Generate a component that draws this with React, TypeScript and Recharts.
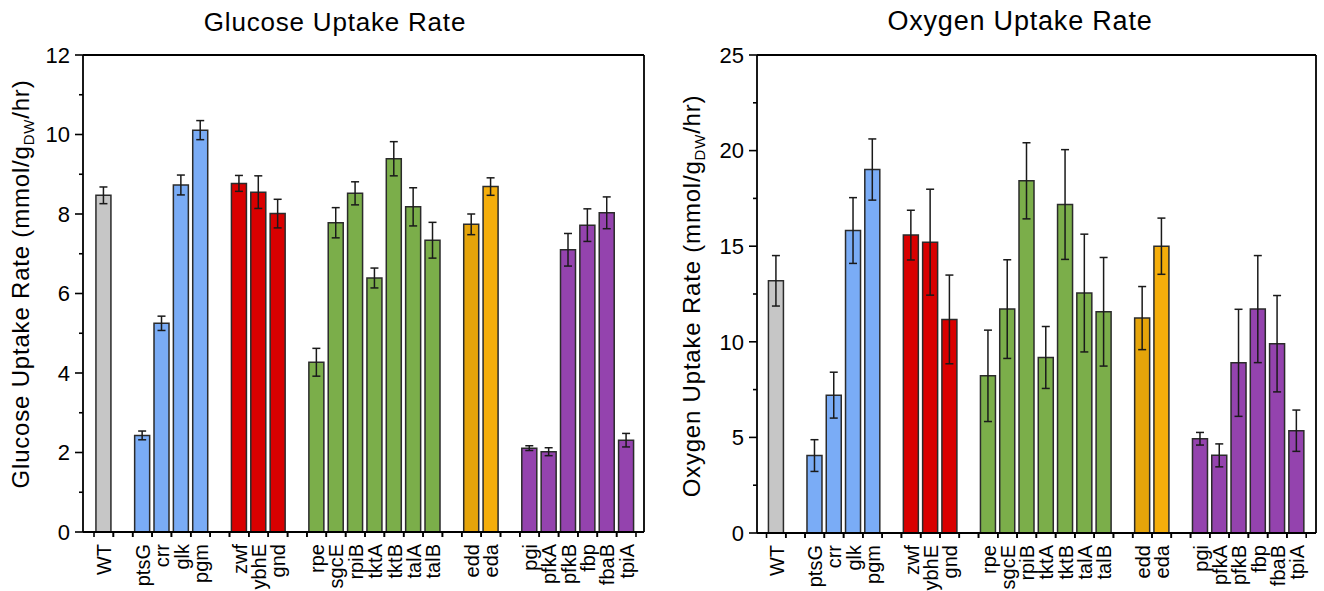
import React from 'react'
import { BarChart, Bar, XAxis, YAxis, ErrorBar, Cell } from 'recharts'

const FONT = '"Liberation Sans", Arial, sans-serif'

// '' entries are the empty slots between gene groups
const categories = [
  'WT', '',
  'ptsG', 'crr', 'glk', 'pgm', '',
  'zwf', 'ybhE', 'gnd', '',
  'rpe', 'sgcE', 'rpiB', 'tktA', 'tktB', 'talA', 'talB', '',
  'edd', 'eda', '',
  'pgi', 'pfkA', 'pfkB', 'fbp', 'fbaB', 'tpiA',
]

const GRAY = '#c6c6c6'
const BLUE = '#7aacf6'
const RED = '#d90000'
const GREEN = '#7bae4a'
const ORANGE_D = '#e5a40a'
const ORANGE = '#f5ae0b'
const PURPLE = '#9443ae'

const barColors = [
  GRAY, '',
  BLUE, BLUE, BLUE, BLUE, '',
  RED, RED, RED, '',
  GREEN, GREEN, GREEN, GREEN, GREEN, GREEN, GREEN, '',
  ORANGE_D, ORANGE, '',
  PURPLE, PURPLE, PURPLE, PURPLE, PURPLE, PURPLE,
]

const glucose = [
  8.47, null,
  2.43, 5.25, 8.73, 10.11, null,
  8.77, 8.55, 8.01, null,
  4.27, 7.78, 8.52, 6.39, 9.39, 8.18, 7.34, null,
  7.74, 8.69, null,
  2.11, 2.02, 7.1, 7.72, 8.03, 2.31,
]
const glucoseErr = [
  0.21, null,
  0.11, 0.18, 0.25, 0.24, null,
  0.2, 0.41, 0.36, null,
  0.35, 0.38, 0.29, 0.25, 0.43, 0.48, 0.45, null,
  0.26, 0.22, null,
  0.06, 0.1, 0.41, 0.41, 0.4, 0.17,
]

const oxygen = [
  13.19, null,
  4.05, 7.21, 15.82, 19.01, null,
  15.58, 15.21, 11.17, null,
  8.22, 11.71, 18.42, 9.18, 17.18, 12.55, 11.57, null,
  11.24, 15.0, null,
  4.93, 4.06, 8.9, 11.71, 9.9, 5.35,
]
const oxygenErr = [
  1.32, null,
  0.83, 1.2, 1.72, 1.6, null,
  1.3, 2.77, 2.32, null,
  2.39, 2.58, 1.99, 1.62, 2.87, 3.08, 2.84, null,
  1.65, 1.47, null,
  0.33, 0.6, 2.8, 2.8, 2.52, 1.08,
]

const glucoseMajor = [0, 2, 4, 6, 8, 10, 12]
const glucoseAll = [0, 1, 2, 3, 4, 5, 6, 7, 8, 9, 10, 11, 12]
const oxygenMajor = [0, 5, 10, 15, 20, 25]
const oxygenAll = [0, 2.5, 5, 7.5, 10, 12.5, 15, 17.5, 20, 22.5, 25]

function makeXTick(slot: number) {
  return (props: any) => {
    const { x, y, payload } = props
    const h = slot / 2
    const lx = x + 7.5
    const ly = y + 12
    return (
      <g>
        <line x1={x - h} x2={x - h} y1={y} y2={y + 5} stroke="#000" strokeWidth={1.6} />
        <line x1={x + h} x2={x + h} y1={y} y2={y + 5} stroke="#000" strokeWidth={1.6} />
        {payload.value ? (
          <text x={lx} y={ly} transform={`rotate(-90, ${lx}, ${ly})`} textAnchor="end"
            fontSize={20} fontFamily={FONT} fill="#000">{payload.value}</text>
        ) : null}
      </g>
    )
  }
}

function makeYTick(majors: number[]) {
  return (props: any) => {
    const { x, y, payload } = props
    const major = majors.includes(payload.value)
    return (
      <g>
        <line x1={x - (major ? 8 : 4)} x2={x} y1={y} y2={y} stroke="#000" strokeWidth={1.6} />
        {major ? (
          <text x={x - 13} y={y} dy="0.35em" textAnchor="end" fontSize={22} fontFamily={FONT} fill="#000">
            {payload.value}
          </text>
        ) : null}
      </g>
    )
  }
}

function YLabel({ name, bx, cy }: { name: string; bx: number; cy: number }) {
  return (
    <text x={bx} y={cy} transform={`rotate(-90, ${bx}, ${cy})`} textAnchor="middle"
      fontSize={24} fontFamily={FONT} fill="#000" letterSpacing={0.8}>
      <tspan>{name} Uptake Rate (mmol/g</tspan>
      <tspan dy={5} fontSize={15}>DW</tspan>
      <tspan dy={-5}>/hr)</tspan>
    </text>
  )
}

type PanelProps = {
  name: string
  values: (number | null)[]
  errs: (number | null)[]
  majors: number[]
  all: number[]
  width: number
  margin: { top: number; right: number; bottom: number; left: number }
  pad: { left: number; right: number }
  labelX: number
  labelY: number
}

function Panel({ name, values, errs, majors, all, width, margin, pad, labelX, labelY }: PanelProps) {
  const rows = categories.map((c, i) => ({ name: c, value: values[i], err: errs[i] }))
  const plotW = width - margin.left - margin.right - 61
  const slot = (plotW - pad.left - pad.right) / categories.length
  const top = majors[majors.length - 1]
  const axis = { stroke: '#000', strokeWidth: 1.8 }
  return (
    <BarChart width={width} height={591} data={rows} margin={margin} barCategoryGap="10%">
      <XAxis xAxisId="b" dataKey="name" interval={0} height={55} padding={pad}
        tickSize={0} tickMargin={0} tickLine={false} axisLine={axis} tick={makeXTick(slot)} />
      <XAxis xAxisId="t" dataKey="name" orientation="top" height={1} tick={false} tickLine={false} axisLine={axis} />
      <YAxis yAxisId="l" domain={[0, top]} ticks={all} interval={0} width={60} tickSize={0} tickMargin={0}
        tickLine={false} axisLine={axis} tick={makeYTick(majors)}
        label={<YLabel name={name} bx={labelX} cy={labelY} />} />
      <YAxis yAxisId="r" orientation="right" mirror domain={[0, top]} ticks={majors} interval={0} width={1}
        tickSize={4} tick={false} tickLine={{ stroke: '#000', strokeWidth: 1.6 }} axisLine={axis} />
      <Bar xAxisId="b" yAxisId="l" dataKey="value" stroke="#2b2b2b" strokeWidth={1.5} isAnimationActive={false}>
        {rows.map((r, i) => (
          <Cell key={i} fill={barColors[i] || 'none'} />
        ))}
        <ErrorBar dataKey="err" width={4} stroke="#1a1a1a" strokeWidth={1.5} direction="y" />
      </Bar>
    </BarChart>
  )
}

function Title({ text, cx, size }: { text: string; cx: number; size: number }) {
  return (
    <div style={{
      position: 'absolute', left: cx - 250, width: 500, top: 31 - size * 0.85, textAlign: 'center',
      fontSize: size, lineHeight: `${size}px`, fontFamily: FONT, color: '#000', letterSpacing: 0.8,
    }}>{text}</div>
  )
}

export default function App() {
  return (
    <div style={{ position: 'absolute', left: 0, top: 0, width: 1324, height: 591, background: '#fff', fontFamily: FONT }}>
      <Title text="Glucose Uptake Rate" cx={335} size={26} />
      <Title text="Oxygen Uptake Rate" cx={1020} size={27} />
      <div style={{ position: 'absolute', left: 0, top: 0 }}>
        <Panel name="Glucose" values={glucose} errs={glucoseErr} majors={glucoseMajor} all={glucoseAll}
          width={660} margin={{ top: 54, right: 16, bottom: 4, left: 23 }} pad={{ left: 11, right: 8 }}
          labelX={29} labelY={284} />
      </div>
      <div style={{ position: 'absolute', left: 660, top: 0 }}>
        <Panel name="Oxygen" values={oxygen} errs={oxygenErr} majors={oxygenMajor} all={oxygenAll}
          width={664} margin={{ top: 54, right: 8, bottom: 3, left: 37 }} pad={{ left: 9.5, right: 9.8 }}
          labelX={40} labelY={296} />
      </div>
    </div>
  )
}
